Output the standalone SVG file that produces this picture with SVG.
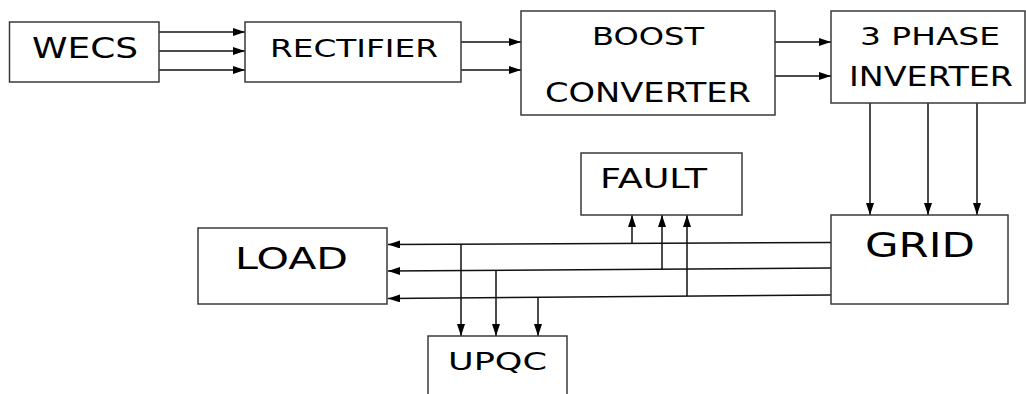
<svg xmlns="http://www.w3.org/2000/svg" width="1026" height="394" viewBox="0 0 1026 394">
<defs>
<marker id="ah" markerUnits="userSpaceOnUse" markerWidth="13" markerHeight="9" refX="12" refY="4" orient="auto">
<path d="M0,0 L12,4 L0,8 z" fill="#000"/>
</marker>
<style>
.box{fill:#fff;stroke:#3a3a3a;stroke-width:1.5}
.lbl{font-family:"DejaVu Sans","Liberation Sans",sans-serif;fill:#000}
.w{fill:none;stroke:#111;stroke-width:1.5}
.a{fill:none;stroke:#111;stroke-width:1.5;marker-end:url(#ah)}
</style>
</defs>
<rect width="1026" height="394" fill="#fff"/>
<g id="connectors">
<line class="a" x1="159" y1="32" x2="245" y2="32"/>
<line class="a" x1="159" y1="51" x2="245" y2="51"/>
<line class="a" x1="159" y1="70" x2="245" y2="70"/>
<line class="a" x1="461" y1="42" x2="521" y2="42"/>
<line class="a" x1="461" y1="70" x2="521" y2="70"/>
<line class="a" x1="775" y1="42" x2="831" y2="42"/>
<line class="a" x1="775" y1="76" x2="831" y2="76"/>
<line class="a" x1="870" y1="103" x2="870" y2="215"/>
<line class="a" x1="928" y1="103" x2="928" y2="215"/>
<line class="a" x1="977" y1="103" x2="977" y2="215"/>
<line class="a" x1="831" y1="242.5" x2="388" y2="244.5"/>
<line class="a" x1="831" y1="268" x2="388" y2="271"/>
<line class="a" x1="831" y1="295" x2="388" y2="298.5"/>
<line class="a" x1="632" y1="243" x2="632" y2="215"/>
<line class="a" x1="662" y1="269.2" x2="662" y2="215"/>
<line class="a" x1="687" y1="296" x2="687" y2="215"/>
<line class="a" x1="461" y1="244" x2="461" y2="336"/>
<line class="a" x1="496" y1="270.5" x2="496" y2="336"/>
<line class="a" x1="538" y1="297.5" x2="538" y2="336"/>
</g>
<g id="wecs">
<rect class="box" x="9.5" y="22" width="149.5" height="60"/>
<text class="lbl" x="32" y="58" font-size="27.5" textLength="106" lengthAdjust="spacingAndGlyphs">WECS</text>
</g>
<g id="rectifier">
<rect class="box" x="245" y="22" width="216" height="60"/>
<text class="lbl" x="270" y="57" font-size="25" textLength="168" lengthAdjust="spacingAndGlyphs">RECTIFIER</text>
</g>
<g id="boost">
<rect class="box" x="521" y="11" width="254" height="104"/>
<text class="lbl" x="592" y="45" font-size="25" textLength="112" lengthAdjust="spacingAndGlyphs">BOOST</text>
<text class="lbl" x="545" y="102" font-size="26" textLength="206" lengthAdjust="spacingAndGlyphs">CONVERTER</text>
</g>
<g id="inverter">
<rect class="box" x="831" y="11" width="194" height="92"/>
<text class="lbl" x="860" y="45" font-size="25" textLength="140" lengthAdjust="spacingAndGlyphs">3 PHASE</text>
<text class="lbl" x="849" y="86" font-size="26" textLength="164" lengthAdjust="spacingAndGlyphs">INVERTER</text>
</g>
<g id="fault">
<rect class="box" x="581" y="153" width="161" height="62"/>
<text class="lbl" x="600" y="188" font-size="26" textLength="107" lengthAdjust="spacingAndGlyphs">FAULT</text>
</g>
<g id="grid">
<rect class="box" x="831" y="215" width="177" height="89"/>
<text class="lbl" x="865" y="257" font-size="33" textLength="110" lengthAdjust="spacingAndGlyphs">GRID</text>
</g>
<g id="load">
<rect class="box" x="198" y="228" width="189" height="76"/>
<text class="lbl" x="235" y="269" font-size="30" textLength="113" lengthAdjust="spacingAndGlyphs">LOAD</text>
</g>
<g id="upqc">
<rect class="box" x="428" y="336" width="139" height="70"/>
<text class="lbl" x="448" y="370" font-size="25" textLength="99" lengthAdjust="spacingAndGlyphs">UPQC</text>
</g>
</svg>
